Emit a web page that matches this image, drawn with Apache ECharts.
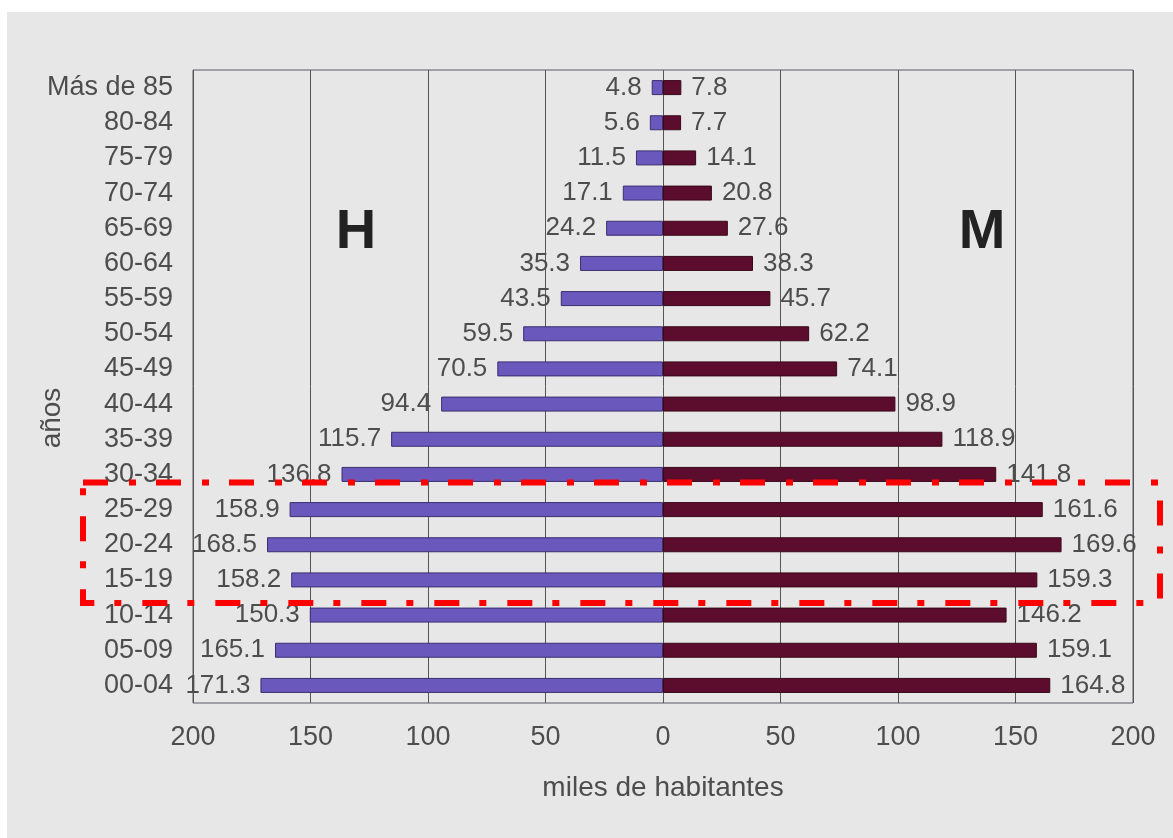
<!DOCTYPE html>
<html>
<head>
<meta charset="utf-8">
<script src="https://cdn.jsdelivr.net/npm/echarts@6/dist/echarts.min.js"></script>
<style>
html,body{margin:0;padding:0;background:#ffffff;width:1173px;height:838px;overflow:hidden;}
#bg{position:absolute;left:7px;top:12px;width:1166px;height:826px;background:#e7e7e7;}
#chart{position:absolute;left:0;top:0;width:1173px;height:838px;}
</style>
</head>
<body>
<div id="bg"></div>
<div id="chart"></div>
<script>
const categories = ['Más de 85','80-84','75-79','70-74','65-69','60-64','55-59','50-54','45-49','40-44','35-39','30-34','25-29','20-24','15-19','10-14','05-09','00-04'];
const hombres = [4.8,5.6,11.5,17.1,24.2,35.3,43.5,59.5,70.5,94.4,115.7,136.8,158.9,168.5,158.2,150.3,165.1,171.3];
const mujeres = [7.8,7.7,14.1,20.8,27.6,38.3,45.7,62.2,74.1,98.9,118.9,141.8,161.6,169.6,159.3,146.2,159.1,164.8];
const xTicks = {min:-200, max:200, interval:50};

const FONT = 'Liberation Sans, Arial, sans-serif';
const TXT = '#4d4d4d';

const chart = echarts.init(document.getElementById('chart'));
const option = {
  backgroundColor: 'transparent',
  animation: false,
  textStyle: {fontFamily: FONT},
  grid: {left:193, top:70, right:40, bottom:135, show:true, borderColor:'#5a5a6a', borderWidth:1, backgroundColor:'transparent'},
  xAxis: {
    type:'value', min:xTicks.min, max:xTicks.max, interval:xTicks.interval,
    name:'miles de habitantes', nameLocation:'middle', nameGap:71,
    nameTextStyle:{fontSize:28, color:TXT, fontFamily:FONT},
    axisLine:{show:false}, axisTick:{show:false},
    axisLabel:{fontSize:27, color:TXT, margin:21, fontFamily:FONT, formatter:v=>Math.abs(v)},
    splitLine:{show:true, lineStyle:{color:'#555', width:1}}
  },
  yAxis: {
    type:'category', data:categories, inverse:true,
    axisLine:{show:false}, axisTick:{show:false},
    axisLabel:{fontSize:27, color:TXT, margin:20, fontFamily:FONT},
    splitLine:{show:false}
  },
  series: [
    {
      name:'H', type:'bar', data:hombres.map(v=>-v), barWidth:15, barGap:'-100%',
      itemStyle:{color:'#6a58bd', borderColor:'#3b2f6e', borderWidth:1},
      label:{show:true, position:'left', distance:10, fontSize:26, color:TXT, fontFamily:FONT, formatter:p=>Math.abs(p.value).toFixed(1)}
    },
    {
      name:'M', type:'bar', data:mujeres, barWidth:15, barGap:'-100%',
      itemStyle:{color:'#5c0d2e', borderColor:'#3a0818', borderWidth:1},
      label:{show:true, position:'right', distance:10, fontSize:26, color:TXT, fontFamily:FONT, formatter:p=>p.value.toFixed(1)}
    }
  ],
  graphic: [
    {type:'text', x:356, y:233, style:{text:'H', font:'bold 56px '+FONT, fill:'#222', align:'center', verticalAlign:'middle'}},
    {type:'text', x:982, y:233, style:{text:'M', font:'bold 56px '+FONT, fill:'#222', align:'center', verticalAlign:'middle'}},
    {type:'text', x:52, y:418, rotation:Math.PI/2, style:{text:'años', font:'28px '+FONT, fill:TXT, align:'center', verticalAlign:'middle'}}
  ]
};
chart.setOption(option);

const yTop = chart.convertToPixel({yAxisIndex:0}, '25-29') - 27;
const yBot = chart.convertToPixel({yAxisIndex:0}, '15-19') + 23;
chart.setOption({graphic: option.graphic.concat([
  {type:'rect', shape:{x:83, y:yTop, width:1160-83, height:yBot-yTop}, z:100,
   style:{fill:'none', stroke:'#ff0000', lineWidth:6, lineDash:[25,21,7,20]}}
])});
</script>
</body>
</html>
